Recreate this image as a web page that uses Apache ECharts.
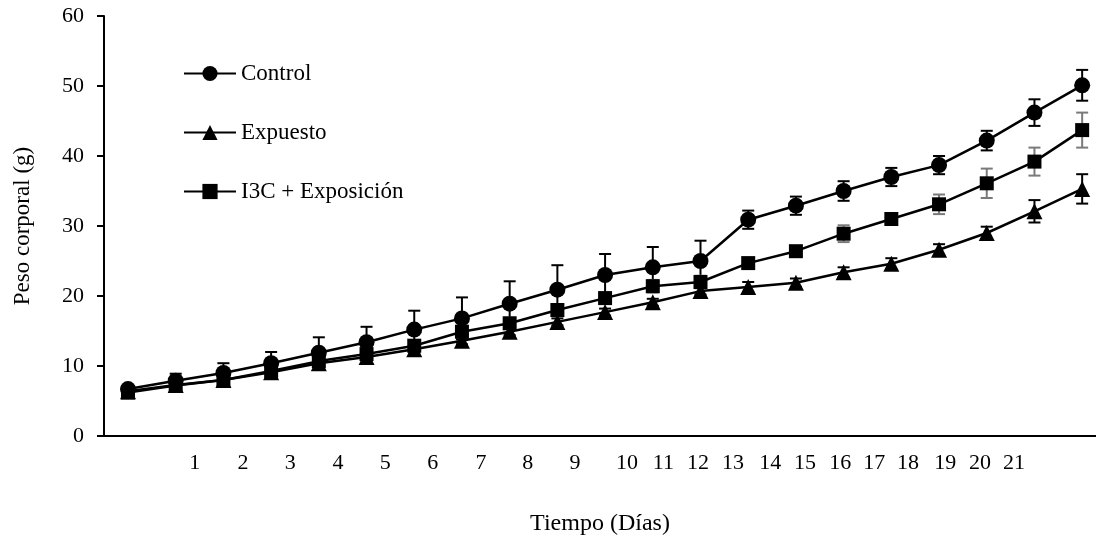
<!DOCTYPE html>
<html>
<head>
<meta charset="utf-8">
<script src="https://cdn.jsdelivr.net/npm/echarts@6/dist/echarts.min.js"></script>
<style>
  html, body { margin: 0; padding: 0; background: #fff; }
  #chart { width: 1096px; height: 539px; }
</style>
</head>
<body>
<div id="chart"></div>
<script>
// measurement days (points), one per sampling
var days = [0, 1, 2, 3, 4, 5, 6, 7, 8, 9, 10, 11, 12, 13, 14, 15, 16, 17, 18, 19, 20];

var control    = [6.7, 7.9, 9.0, 10.4, 11.9, 13.4, 15.2, 16.8, 18.9, 20.9, 23.0, 24.1, 25.0, 30.9, 32.9, 35.0, 37.0, 38.7, 42.2, 46.2, 50.1];
var controlErr = [0.5, 1.0, 1.4, 1.6, 2.2, 2.2, 2.7, 3.0, 3.2, 3.5, 3.0, 2.9, 2.9, 1.3, 1.3, 1.4, 1.3, 1.3, 1.4, 1.9, 2.2];

var expuesto    = [6.4, 7.3, 8.0, 9.1, 10.4, 11.3, 12.4, 13.6, 14.9, 16.3, 17.7, 19.1, 20.7, 21.3, 21.9, 23.4, 24.6, 26.6, 29.0, 32.1, 35.3];
var expuestoErr = [0.3, 0.3, 0.4, 0.4, 0.4, 0.5, 0.5, 0.5, 0.5, 0.5, 0.5, 0.5, 0.5, 0.7, 0.6, 0.7, 0.8, 0.8, 0.9, 1.6, 2.1];

var i3c    = [6.2, 7.2, 8.0, 9.3, 10.7, 11.7, 12.9, 14.9, 16.1, 18.0, 19.7, 21.4, 22.0, 24.7, 26.4, 28.9, 31.0, 33.1, 36.1, 39.2, 43.7];
var i3cErr = [0.3, 0.4, 0.4, 0.5, 0.5, 0.6, 0.7, 0.7, 0.8, 0.8, 0.8, 0.9, 0.9, 0.6, 0.7, 1.2, 0.8, 1.4, 2.1, 2.0, 2.5];

// category labels of the x axis and where they sit along it
var dayLabels  = ['1','2','3','4','5','6','7','8','9','10','11','12','13','14','15','16','17','18','19','20','21'];
var dayLabelAt = [1.40, 2.41, 3.40, 4.40, 5.39, 6.39, 7.40, 8.38, 9.37, 10.46, 11.22, 11.95, 12.68, 13.46, 14.19, 14.93, 15.64, 16.35, 17.13, 17.86, 18.57];

var yTicks = [0, 10, 20, 30, 40, 50, 60];

var FONT = '"Liberation Serif", "Times New Roman", serif';

function pairs(vals) {
    return days.map(function (d, i) { return [d, vals[i]]; });
}
function errData(vals, errs) {
    return days.map(function (d, i) { return [d, vals[i] - errs[i], vals[i] + errs[i]]; });
}
function errSeries(vals, errs, color) {
    return {
        type: 'custom',
        z: 1,
        silent: true,
        data: errData(vals, errs),
        encode: { x: 0, y: [1, 2] },
        renderItem: function (params, api) {
            var lo = api.coord([api.value(0), api.value(1)]);
            var hi = api.coord([api.value(0), api.value(2)]);
            var half = 6;
            var st = { stroke: color, lineWidth: 2 };
            return {
                type: 'group',
                children: [
                    { type: 'line', shape: { x1: hi[0], y1: hi[1], x2: lo[0], y2: lo[1] }, style: st },
                    { type: 'line', shape: { x1: hi[0] - half, y1: hi[1], x2: hi[0] + half, y2: hi[1] }, style: st },
                    { type: 'line', shape: { x1: lo[0] - half, y1: lo[1], x2: lo[0] + half, y2: lo[1] }, style: st }
                ]
            };
        }
    };
}
function lineSeries(name, vals, symbol, size) {
    return {
        name: name,
        type: 'line',
        z: 3,
        data: pairs(vals),
        symbol: symbol,
        symbolSize: size,
        showAllSymbol: true,
        lineStyle: { color: '#000', width: 2.5 },
        itemStyle: { color: '#000', borderWidth: 0 },
        emphasis: { disabled: true },
        animation: false
    };
}

var myChart = echarts.init(document.getElementById('chart'));

var option = {
    backgroundColor: '#fff',
    animation: false,
    textStyle: { fontFamily: FONT, color: '#000' },
    grid: { left: 104, right: 0, top: 16, bottom: 103, containLabel: false, outerBoundsMode: 'none' },
    legend: {
        orient: 'vertical',
        left: 178,
        top: 57,
        itemWidth: 52,
        itemHeight: 19,
        itemGap: 36,
        textStyle: { fontFamily: FONT, fontSize: 23, color: '#000' },
        data: ['Control', 'Expuesto', 'I3C + Exposición']
    },
    xAxis: {
        type: 'value',
        min: -0.503,
        max: 20.29,
        name: 'Tiempo (Días)',
        nameLocation: 'middle',
        nameGap: 76,
        nameTextStyle: { fontFamily: FONT, fontSize: 24, color: '#000' },
        axisLine: { show: true, onZero: false, lineStyle: { color: '#000', width: 2 } },
        axisTick: { show: false },
        splitLine: { show: false },
        axisLabel: {
            customValues: dayLabelAt,
            margin: 16,
            fontFamily: FONT,
            fontSize: 22,
            color: '#000',
            formatter: function (v) {
                var i = dayLabelAt.indexOf(v);
                return i >= 0 ? dayLabels[i] : '';
            }
        }
    },
    yAxis: {
        type: 'value',
        min: yTicks[0],
        max: yTicks[yTicks.length - 1],
        interval: 10,
        name: 'Peso corporal (g)',
        nameLocation: 'middle',
        nameGap: 70,
        nameTextStyle: { fontFamily: FONT, fontSize: 23, color: '#000' },
        axisLine: { show: true, onZero: false, lineStyle: { color: '#000', width: 2 } },
        axisTick: { show: true, inside: false, length: 7, lineStyle: { color: '#000', width: 2 } },
        splitLine: { show: false },
        axisLabel: { fontFamily: FONT, fontSize: 22, color: '#000', margin: 20 }
    },
    series: [
        errSeries(control, controlErr, '#000'),
        errSeries(expuesto, expuestoErr, '#000'),
        errSeries(i3c, i3cErr, '#7a7a7a'),
        lineSeries('Control', control, 'circle', 16),
        lineSeries('Expuesto', expuesto, 'triangle', 16),
        lineSeries('I3C + Exposición', i3c, 'rect', 14)
    ]
};

myChart.setOption(option);
</script>
</body>
</html>
